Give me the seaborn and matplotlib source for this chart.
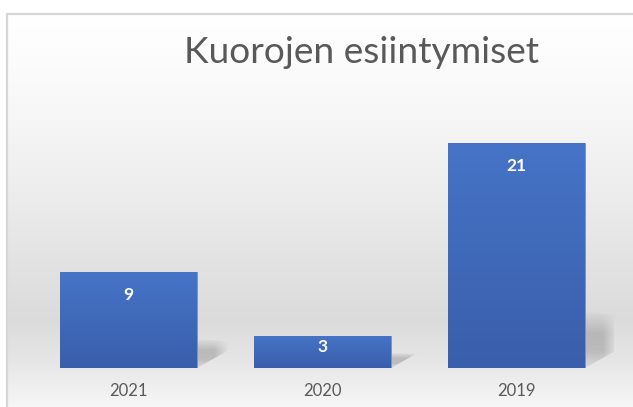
import numpy as np
import pandas as pd
import matplotlib
matplotlib.use("Agg")
import matplotlib.pyplot as plt
import seaborn as sns
from matplotlib.patches import Polygon

# ---- data ----
years = ["2021", "2020", "2019"]
counts = [9, 3, 21]
chart_title = "Kuorojen esiintymiset"

sns.set_theme(style="white")
plt.rcParams['font.family'] = ['Lato', 'DejaVu Sans']

W, H = 633, 407
fig = plt.figure(figsize=(W / 100, H / 100), dpi=100)
fig.patch.set_facecolor('white')

# ---- background panel with vertical gradient ----
bg = fig.add_axes([0, 0, 1, 1], zorder=0)
bg.set_xlim(0, W)
bg.set_ylim(H, 0)
bg.axis('off')
ys = np.array([14, 100, 200, 260, 320, 360, 407])
vals = np.array([1.0, 0.975, 0.925, 0.89, 0.86, 0.9, 0.965])
yy = np.arange(14, H + 1)
g = np.interp(yy, ys, vals)
img = np.repeat(g[:, None], 2, axis=1)
bg.imshow(np.dstack([img] * 3), extent=(7, W, H, 14), origin='upper',
          aspect='auto', interpolation='bilinear')
bg.plot([7, 7, W], [H, 14, 14], color='#d6d6d6', lw=1.6, solid_capstyle='butt')
bg.set_xlim(0, W)
bg.set_ylim(H, 0)

# ---- main chart ----
ax = fig.add_axes([31.5 / W, (H - 368) / H, 582 / W, (368 - 100) / H], zorder=1)
ax.patch.set_alpha(0)
df = pd.DataFrame({"year": years, "count": counts})
sns.barplot(data=df, x="year", y="count", ax=ax, color='#4472c4',
            width=0.706, saturation=1, zorder=3)

px_per_unit = (368 - 100) / 25.0
bar_grad = np.linspace(0, 1, 100)[:, None]
top_c = np.array([0.275, 0.455, 0.780])
bot_c = np.array([0.225, 0.370, 0.670])


def soft(f, width):
    return np.clip(f / width, 0, 1)


for p in ax.patches:
    x0, w, h = p.get_x(), p.get_width(), p.get_height()
    xr = x0 + w
    hpx = h * px_per_unit
    # shadow
    sh_top = (8 + 0.22 * hpx) / px_per_unit
    dx = 32 / 194.0
    sh_poly = Polygon([(xr, 0), (xr + dx, 18 / px_per_unit), (xr + dx, sh_top * 0.9),
                       (xr, sh_top)], closed=True, facecolor='none', edgecolor='none',
                      transform=ax.transData)
    ax.add_patch(sh_poly)
    nx, ny = 60, 60
    fx = np.linspace(0, 1, nx)[None, :]
    fy = np.linspace(0, 1, ny)[:, None]  # 0 bottom -> 1 top
    alpha = 0.36 * soft(1 - fx, 0.45) * soft(1 - fy, 0.4) * soft(fy + 0.15, 0.45)
    shadow_img = np.zeros((ny, nx, 4))
    shadow_img[..., :3] = 0.45
    shadow_img[..., 3] = alpha
    im = ax.imshow(shadow_img, extent=(xr, xr + dx, 0, sh_top), origin='lower',
                   aspect='auto', interpolation='bilinear', zorder=2)
    im.set_clip_path(sh_poly)
    # bar gradient
    cols = bot_c[None, :] + (top_c - bot_c)[None, :] * bar_grad
    gimg = np.repeat(cols[:, None, :], 2, axis=1)
    bim = ax.imshow(gimg, extent=(x0, xr, 0, h), origin='lower', aspect='auto',
                    interpolation='bilinear', zorder=4)
    bim.set_clip_path(p)
    p.set_edgecolor('#6f93d6')
    p.set_linewidth(0.6)

for i, v in enumerate(counts):
    off = min(23, 0.36 * v * px_per_unit) / px_per_unit
    ax.text(i, v - off, str(v), ha='center', va='center',
            color='white', fontsize=12.5, fontweight='bold', zorder=5)

ax.set_xlim(-0.5, 2.5)
ax.set_ylim(0, 25)
ax.set_xlabel('')
ax.set_ylabel('')
ax.set_yticks([])
ax.tick_params(axis='x', length=0, pad=11, labelsize=12, labelcolor='#595959')
sns.despine(ax=ax, left=True, bottom=True)

fig.text(362 / W, 1 - 63 / H, chart_title, ha='center', va='baseline',
         fontsize=26.7, color='#595959')

fig.savefig('out.png', dpi=100)
